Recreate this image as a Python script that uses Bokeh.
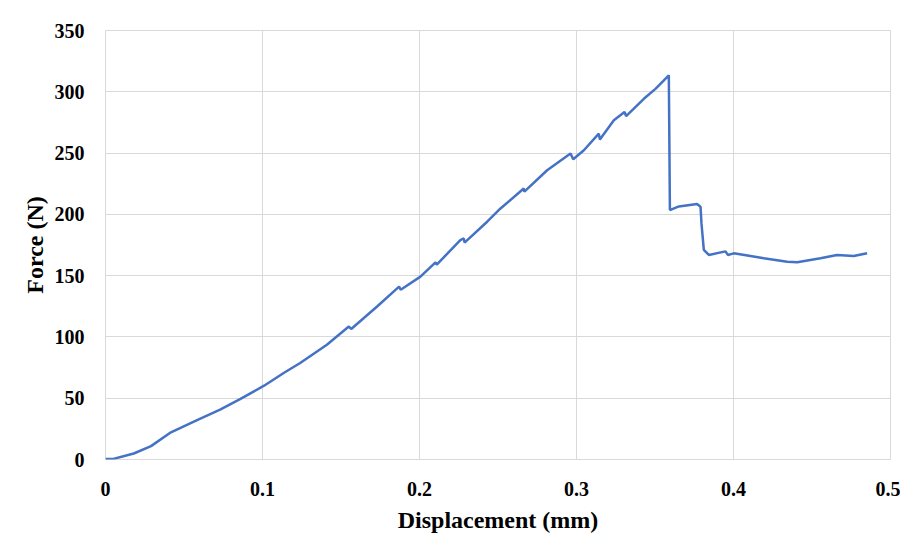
from bokeh.plotting import figure
from bokeh.models import FixedTicker, Range1d
from bokeh.embed import file_html
from bokeh.resources import INLINE

# Data
displacement = [0, 0.005, 0.018, 0.029, 0.041, 0.058, 0.073, 0.086, 0.101, 0.114,
                0.124, 0.141, 0.155, 0.1565, 0.173, 0.187, 0.188, 0.2006, 0.2102, 0.211,
                0.226, 0.2282, 0.2287, 0.2431, 0.2516, 0.2664, 0.2668, 0.2813, 0.2962, 0.2979,
                0.3047, 0.3142, 0.3149, 0.3238, 0.3306, 0.3316, 0.3429, 0.3503, 0.3588, 0.3595,
                0.3652, 0.3768, 0.379, 0.3796, 0.3811, 0.3843, 0.3949, 0.3964, 0.4002, 0.4108,
                0.4193, 0.4342, 0.4406, 0.4554, 0.466, 0.4766, 0.4851]
force = [0.5, 0.5, 4.9, 10.9, 21.7, 32.0, 40.7, 49.4, 60.2, 71.0,
         78.7, 93.6, 108.5, 106.5, 124.8, 141.0, 138.5, 149.2, 160.9, 159.0,
         179.0, 180.4, 177.0, 194.0, 204.8, 221.1, 218.5, 236.0, 249.6, 245.0,
         252.3, 265.8, 261.0, 276.7, 283.5, 280.2, 294.3, 302.4, 313.4, 203.5,
         206.5, 208.4, 206.2, 192.6, 171.0, 166.9, 169.8, 166.9, 168.2, 166.0,
         164.2, 161.4, 160.9, 164.2, 166.9, 166.0, 168.2]

x_ticks = [0, 0.1, 0.2, 0.3, 0.4, 0.5]
x_tick_labels = ["0", "0.1", "0.2", "0.3", "0.4", "0.5"]
y_ticks = [0, 50, 100, 150, 200, 250, 300, 350]
y_tick_labels = ["0", "50", "100", "150", "200", "250", "300", "350"]

FONT = "Liberation Serif"
GRID = "#d9d9d9"

p = figure(width=900, height=535, output_backend="svg", toolbar_location=None,
           x_range=Range1d(0, 0.5), y_range=Range1d(0, 350),
           min_border_left=105, min_border_right=10, min_border_top=30, min_border_bottom=70)
p.outline_line_color = GRID
p.outline_line_width = 1

p.line(displacement, force, line_color="#4472C4", line_width=2.5)

for ax in (p.xaxis[0], p.yaxis[0]):
    ax.axis_line_color = None
    ax.major_tick_line_color = None
    ax.minor_tick_line_color = None
    ax.major_label_text_font = FONT
    ax.major_label_text_font_style = "bold"
    ax.major_label_text_font_size = "20px"
    ax.major_label_text_color = "black"
    ax.axis_label_text_font = FONT
    ax.axis_label_text_font_style = "bold"
    ax.axis_label_text_font_size = "24px"
    ax.axis_label_text_color = "black"

p.xaxis.ticker = FixedTicker(ticks=x_ticks)
p.xaxis.major_label_overrides = {t: l for t, l in zip(x_ticks, x_tick_labels)}
p.yaxis.ticker = FixedTicker(ticks=y_ticks)
p.yaxis.major_label_overrides = {t: l for t, l in zip(y_ticks, y_tick_labels)}
p.xaxis.axis_label = "Displacement (mm)"
p.yaxis.axis_label = "Force (N)"
p.xaxis.major_label_standoff = 16
p.yaxis.major_label_standoff = 15
p.xaxis.axis_label_standoff = 8
p.yaxis.axis_label_standoff = 4

p.xgrid.grid_line_color = GRID
p.ygrid.grid_line_color = GRID
p.xgrid.grid_line_width = 1
p.ygrid.grid_line_width = 1

open("out.html", "w").write(file_html(p, INLINE))
